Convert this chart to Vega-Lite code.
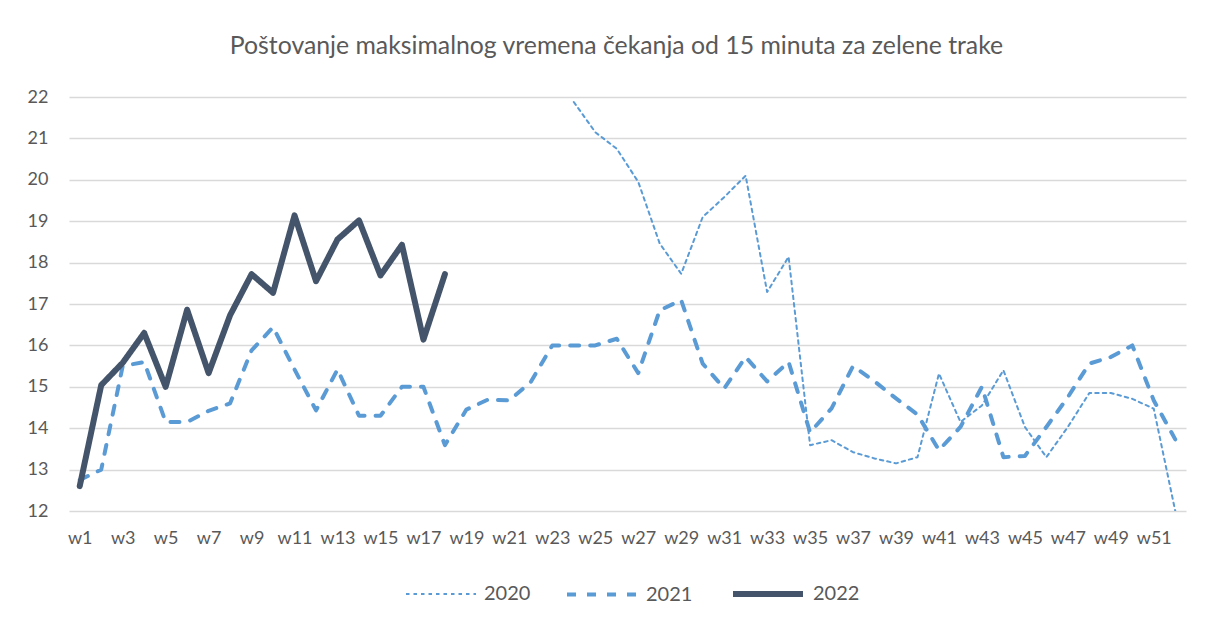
{
  "$schema": "https://vega.github.io/schema/vega-lite/v6.json",
  "width": 1117,
  "height": 414,
  "autosize": "none",
  "padding": {"left": 69, "top": 97, "right": 27, "bottom": 112},
  "background": "white",
  "config": {
    "font": "Lato",
    "view": {"stroke": null},
    "axis": {"labelColor": "#595959", "labelFont": "Lato", "labelFontSize": 18, "ticks": false, "domain": false, "title": null},
    "title": {"font": "Lato", "fontSize": 24.8, "fontWeight": "normal", "color": "#595959"}
  },
  "title": {"text": "Poštovanje maksimalnog vremena čekanja od 15 minuta za zelene trake", "anchor": "middle", "offset": 29, "dx": -11},
  "data": {
    "values": [
      {"week": 24, "year": "2020", "value": 21.88},
      {"week": 25, "year": "2020", "value": 21.15},
      {"week": 26, "year": "2020", "value": 20.75},
      {"week": 27, "year": "2020", "value": 19.95},
      {"week": 28, "year": "2020", "value": 18.46},
      {"week": 29, "year": "2020", "value": 17.73},
      {"week": 30, "year": "2020", "value": 19.1},
      {"week": 31, "year": "2020", "value": 19.58},
      {"week": 32, "year": "2020", "value": 20.1},
      {"week": 33, "year": "2020", "value": 17.29},
      {"week": 34, "year": "2020", "value": 18.14},
      {"week": 35, "year": "2020", "value": 13.59},
      {"week": 36, "year": "2020", "value": 13.71},
      {"week": 37, "year": "2020", "value": 13.42},
      {"week": 38, "year": "2020", "value": 13.27},
      {"week": 39, "year": "2020", "value": 13.15},
      {"week": 40, "year": "2020", "value": 13.3},
      {"week": 41, "year": "2020", "value": 15.32},
      {"week": 42, "year": "2020", "value": 14.15},
      {"week": 43, "year": "2020", "value": 14.55},
      {"week": 44, "year": "2020", "value": 15.4},
      {"week": 45, "year": "2020", "value": 14.03},
      {"week": 46, "year": "2020", "value": 13.3},
      {"week": 47, "year": "2020", "value": 14.03},
      {"week": 48, "year": "2020", "value": 14.85},
      {"week": 49, "year": "2020", "value": 14.85},
      {"week": 50, "year": "2020", "value": 14.71},
      {"week": 51, "year": "2020", "value": 14.47},
      {"week": 52, "year": "2020", "value": 12.0},
      {"week": 1, "year": "2021", "value": 12.75},
      {"week": 2, "year": "2021", "value": 13.0},
      {"week": 3, "year": "2021", "value": 15.5},
      {"week": 4, "year": "2021", "value": 15.6},
      {"week": 5, "year": "2021", "value": 14.15},
      {"week": 6, "year": "2021", "value": 14.15},
      {"week": 7, "year": "2021", "value": 14.42},
      {"week": 8, "year": "2021", "value": 14.6},
      {"week": 9, "year": "2021", "value": 15.88},
      {"week": 10, "year": "2021", "value": 16.44},
      {"week": 11, "year": "2021", "value": 15.42},
      {"week": 12, "year": "2021", "value": 14.43},
      {"week": 13, "year": "2021", "value": 15.42},
      {"week": 14, "year": "2021", "value": 14.3},
      {"week": 15, "year": "2021", "value": 14.3},
      {"week": 16, "year": "2021", "value": 15.0},
      {"week": 17, "year": "2021", "value": 15.0},
      {"week": 18, "year": "2021", "value": 13.59},
      {"week": 19, "year": "2021", "value": 14.45},
      {"week": 20, "year": "2021", "value": 14.69},
      {"week": 21, "year": "2021", "value": 14.67},
      {"week": 22, "year": "2021", "value": 15.12},
      {"week": 23, "year": "2021", "value": 16.0},
      {"week": 24, "year": "2021", "value": 16.0},
      {"week": 25, "year": "2021", "value": 16.0},
      {"week": 26, "year": "2021", "value": 16.16},
      {"week": 27, "year": "2021", "value": 15.33},
      {"week": 28, "year": "2021", "value": 16.85},
      {"week": 29, "year": "2021", "value": 17.09},
      {"week": 30, "year": "2021", "value": 15.56},
      {"week": 31, "year": "2021", "value": 14.96},
      {"week": 32, "year": "2021", "value": 15.72},
      {"week": 33, "year": "2021", "value": 15.13},
      {"week": 34, "year": "2021", "value": 15.6},
      {"week": 35, "year": "2021", "value": 13.9},
      {"week": 36, "year": "2021", "value": 14.48},
      {"week": 37, "year": "2021", "value": 15.5},
      {"week": 38, "year": "2021", "value": 15.13},
      {"week": 39, "year": "2021", "value": 14.72},
      {"week": 40, "year": "2021", "value": 14.33},
      {"week": 41, "year": "2021", "value": 13.47},
      {"week": 42, "year": "2021", "value": 14.03},
      {"week": 43, "year": "2021", "value": 15.0},
      {"week": 44, "year": "2021", "value": 13.3},
      {"week": 45, "year": "2021", "value": 13.33},
      {"week": 46, "year": "2021", "value": 14.03},
      {"week": 47, "year": "2021", "value": 14.75},
      {"week": 48, "year": "2021", "value": 15.56},
      {"week": 49, "year": "2021", "value": 15.72},
      {"week": 50, "year": "2021", "value": 16.0},
      {"week": 51, "year": "2021", "value": 14.67},
      {"week": 52, "year": "2021", "value": 13.73},
      {"week": 1, "year": "2022", "value": 12.6},
      {"week": 2, "year": "2022", "value": 15.04},
      {"week": 3, "year": "2022", "value": 15.58},
      {"week": 4, "year": "2022", "value": 16.3},
      {"week": 5, "year": "2022", "value": 15.0},
      {"week": 6, "year": "2022", "value": 16.86},
      {"week": 7, "year": "2022", "value": 15.33},
      {"week": 8, "year": "2022", "value": 16.73},
      {"week": 9, "year": "2022", "value": 17.72},
      {"week": 10, "year": "2022", "value": 17.27},
      {"week": 11, "year": "2022", "value": 19.14},
      {"week": 12, "year": "2022", "value": 17.55},
      {"week": 13, "year": "2022", "value": 18.56},
      {"week": 14, "year": "2022", "value": 19.02},
      {"week": 15, "year": "2022", "value": 17.69},
      {"week": 16, "year": "2022", "value": 18.43},
      {"week": 17, "year": "2022", "value": 16.14},
      {"week": 18, "year": "2022", "value": 17.72}
    ]
  },
  "mark": {"type": "line", "strokeCap": "round", "strokeJoin": "round", "clip": true},
  "encoding": {
    "x": {
      "field": "week", "type": "quantitative",
      "scale": {"domain": [0.5, 52.5], "nice": false, "zero": false},
      "axis": {"values": [1,3,5,7,9,11,13,15,17,19,21,23,25,27,29,31,33,35,37,39,41,43,45,47,49,51], "labelExpr": "'w' + datum.value", "grid": false, "labelPadding": 18}
    },
    "y": {
      "field": "value", "type": "quantitative",
      "scale": {"domain": [12, 22], "nice": false, "zero": false},
      "axis": {"values": [12,13,14,15,16,17,18,19,20,21,22], "grid": true, "gridColor": "#D9D9D9", "gridWidth": 1.5, "labelPadding": 21}
    },
    "color": {
      "field": "year", "type": "ordinal",
      "scale": {"domain": ["2020", "2021", "2022"], "range": ["#5B9BD5", "#5B9BD5", "#44546A"]},
      "legend": {
        "title": null, "orient": "none", "direction": "horizontal", "legendX": 336, "legendY": 459,
        "symbolType": "stroke", "symbolSize": 4900, "labelFontSize": 20, "labelColor": "#595959", "labelFont": "Lato",
        "labelOffset": 7, "columnPadding": 28
      }
    },
    "strokeDash": {
      "field": "year", "type": "ordinal",
      "scale": {"domain": ["2020", "2021", "2022"], "range": [[3.5, 4], [9, 11], [1, 0]]},
      "legend": {
        "title": null, "orient": "none", "direction": "horizontal", "legendX": 336, "legendY": 459,
        "symbolType": "stroke", "symbolSize": 4900, "labelFontSize": 20, "labelColor": "#595959", "labelFont": "Lato",
        "labelOffset": 7, "columnPadding": 28
      }
    },
    "strokeWidth": {
      "field": "year", "type": "ordinal",
      "scale": {"domain": ["2020", "2021", "2022"], "range": [2, 6]},
      "legend": {
        "title": null, "orient": "none", "direction": "horizontal", "legendX": 336, "legendY": 459,
        "symbolType": "stroke", "symbolSize": 4900, "labelFontSize": 20, "labelColor": "#595959", "labelFont": "Lato",
        "labelOffset": 7, "columnPadding": 28
      }
    }
  }
}
